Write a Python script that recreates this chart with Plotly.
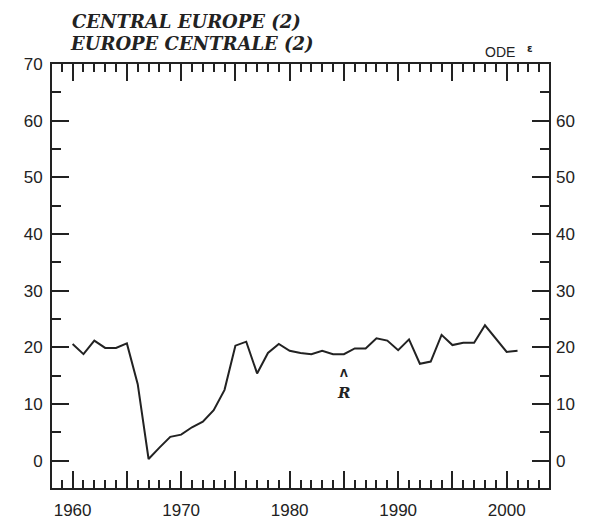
import plotly.graph_objects as go

years = list(range(1960, 2002))
values = [20.6, 18.8, 21.2, 19.9, 19.9, 20.7, 13.5, 0.3, 2.3, 4.2,
          4.6, 5.9, 6.9, 8.9, 12.5, 20.3, 21.0, 15.4, 19.0, 20.6,
          19.4, 19.0, 18.8, 19.4, 18.8, 18.8, 19.8, 19.8, 21.6, 21.2,
          19.5, 21.4, 17.1, 17.5, 22.2, 20.4, 20.8, 20.8, 23.9, 21.6,
          19.2, 19.4]

x_tickvals = list(range(1960, 2001, 5))
x_ticktext = [str(v) if v % 10 == 0 else "" for v in x_tickvals]
y_tickvals = list(range(0, 71, 10))
y_ticktext = [str(v) for v in y_tickvals]

title_lines = ["CENTRAL EUROPE (2)", "EUROPE CENTRALE (2)"]
source_label = "ODE"
note_year = 1985
note_text = "R"

INK = "#222222"
LABEL_FONT = dict(family="Liberation Sans, Arial, sans-serif", size=17, color=INK)

fig = go.Figure()
fig.add_trace(go.Scatter(x=years, y=values, mode="lines",
                         line=dict(color=INK, width=2), showlegend=False,
                         hoverinfo="skip"))
# invisible trace to activate the right-hand axis
fig.add_trace(go.Scatter(x=[years[0]], y=[values[0]], yaxis="y2", mode="markers",
                         marker=dict(opacity=0), showlegend=False, hoverinfo="skip"))

xr = [1958.1, 2003.9]
yr = [-4.82, 70]

# the page body adds an 8px margin, so the figure is 8px smaller and margins
# compensate so that the plot area lands at x 52..549, y 64..488 in the window
fig.update_layout(
    width=582, height=519,
    margin=dict(l=44, r=41, t=56, b=39, autoexpand=False),
    paper_bgcolor="white", plot_bgcolor="white",
    xaxis=dict(range=xr, tickmode="array", tickvals=x_tickvals, ticktext=x_ticktext,
               ticks="inside", ticklen=17, tickwidth=2, tickcolor=INK,
               showline=True, linewidth=2, linecolor=INK, mirror="ticks",
               showgrid=False, zeroline=False, tickfont=LABEL_FONT,
               ticklabelstandoff=6, automargin=False,
               minor=dict(dtick=1, tick0=1960, ticks="inside", ticklen=8,
                          tickwidth=2, tickcolor=INK, showgrid=False)),
    yaxis=dict(range=yr, tickmode="array", tickvals=y_tickvals, ticktext=y_ticktext,
               ticks="inside", ticklen=17, tickwidth=2, tickcolor=INK,
               showline=True, linewidth=2, linecolor=INK, mirror="ticks",
               showgrid=False, zeroline=False, tickfont=LABEL_FONT,
               ticklabelstandoff=4, automargin=False,
               minor=dict(dtick=5, tick0=0, ticks="inside", ticklen=9,
                          tickwidth=2, tickcolor=INK, showgrid=False)),
    yaxis2=dict(range=yr, overlaying="y", side="right", tickmode="array",
                tickvals=y_tickvals, ticktext=[t if t != "70" else "" for t in y_ticktext],
                ticks="", showline=False, showgrid=False, zeroline=False,
                tickfont=LABEL_FONT, ticklabelstandoff=6, automargin=False),
)

title_font = dict(family="DejaVu Serif, serif", size=18, color=INK)
fig.add_annotation(text="<b><i>%s</i></b>" % title_lines[0], xref="paper", yref="paper",
                   x=(70 - 52) / 497, y=1 + (64 - 21.5) / 424, xanchor="left",
                   yanchor="middle", showarrow=False, font=title_font)
fig.add_annotation(text="<b><i>%s</i></b>" % title_lines[1], xref="paper", yref="paper",
                   x=(68 - 52) / 497, y=1 + (64 - 44) / 424, xanchor="left",
                   yanchor="middle", showarrow=False, font=title_font)
fig.add_annotation(text=source_label, xref="paper", yref="paper",
                   x=(500 - 52) / 497, y=1 + (64 - 52) / 424, xanchor="center",
                   yanchor="middle", showarrow=False,
                   font=dict(family="Liberation Sans, Arial, sans-serif", size=14, color=INK))
fig.add_annotation(text="<b>ε</b>", xref="paper", yref="paper",
                   x=(530 - 52) / 497, y=1 + (64 - 49) / 424, xanchor="center",
                   yanchor="middle", showarrow=False,
                   font=dict(family="DejaVu Sans, sans-serif", size=10, color=INK))
fig.add_annotation(text="<b>Λ</b>", x=note_year, y=15.4, xanchor="center", yanchor="middle",
                   showarrow=False,
                   font=dict(family="DejaVu Sans, sans-serif", size=10, color=INK))
fig.add_annotation(text="<b><i>%s</i></b>" % note_text, x=note_year, y=11.9,
                   xanchor="center", yanchor="middle", showarrow=False,
                   font=dict(family="DejaVu Serif, serif", size=15, color=INK))

fig.write_html("out.html")
